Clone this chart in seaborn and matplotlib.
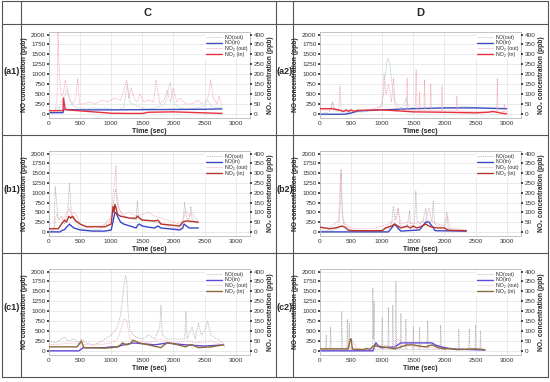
import matplotlib
matplotlib.use("Agg")
import matplotlib.pyplot as plt
import seaborn as sns

# ---- data (NO in ppb on left axis, NO2 in ppb on right axis) ----
# (a1)
a1_no_out_t = [0,100,140,160,200,240,270,290,320,360,400,450,500,600,700,800,900,1000,1100,1200,1240,1260,1300,1400,1500,1600,1700,1800,1880,1920,1950,1980,2050,2100,2200,2300,2400,2500,2550,2600,2700,2780]
a1_no_out = [0,50,200,100,350,300,550,600,400,250,200,150,150,120,150,130,150,120,100,150,600,750,300,200,150,120,150,200,300,650,800,400,200,150,120,130,150,200,350,200,150,150]
a1_no_in_t = [0,225,235,500,1000,1500,2000,2500,2780]
a1_no_in = [30,30,110,100,100,105,110,115,125]
a1_no2_out_t = [0,100,130,145,160,180,200,230,260,300,330,380,430,460,490,550,650,750,850,950,1050,1150,1200,1250,1280,1320,1380,1420,1460,1520,1600,1680,1720,1780,1850,1900,1950,2000,2050,2100,2200,2300,2400,2450,2500,2560,2600,2640,2700,2730,2780]
a1_no2_out = [10,20,80,420,260,140,90,100,170,120,80,50,80,180,50,50,60,50,70,60,80,70,120,170,80,130,70,60,100,60,70,60,170,50,70,120,60,130,60,80,50,50,70,50,60,90,170,80,50,90,40]
a1_no2_in_t = [0,225,232,260,300,500,800,1000,1300,1500,1600,2000,2300,2500,2780]
a1_no2_in = [16,16,80,22,20,15,8,3,2,2,8,10,7,5,2]

# (a2)
a2_no_out_t = [0,150,200,250,300,500,700,900,980,1020,1050,1080,1100,1130,1160,1200,1300,1350,1380,1420,1500,1700,2000,2200,2300,2500,2800,3000]
a2_no_out = [0,50,300,100,50,30,50,80,200,500,1000,1350,1400,1200,700,300,150,200,400,200,150,130,130,150,200,150,130,120]
a2_no_in_t = [0,400,500,600,800,1000,1500,2000,2500,3000]
a2_no_in = [-10,-10,20,70,90,100,130,150,150,130]
a2_no2_out_t = [0,180,200,220,300,320,340,500,800,1000,1030,1060,1100,1150,1180,1210,1300,1390,1400,1410,1500,1530,1545,1560,1590,1600,1610,1670,1680,1690,1770,1780,1790,1950,1960,1970,2190,2200,2210,2500,2840,2850,2860,2950,2960,2970,3000]
a2_no2_out = [20,20,60,15,15,140,15,15,20,40,200,100,150,60,180,40,20,15,180,15,15,15,220,15,15,110,15,15,170,15,15,150,15,15,140,15,15,90,15,10,10,180,10,10,50,10,10]
a2_no2_in_t = [0,200,300,380,420,460,500,550,600,700,1000,1200,1500,2000,2500,2700,2780,2900,3000]
a2_no2_in = [26,26,20,12,20,12,20,12,18,18,20,16,10,8,5,8,12,4,0]

# (b1)
b1_no_out_t = [0,80,100,150,200,250,300,330,360,400,500,600,800,900,950,1000,1040,1070,1100,1150,1200,1300,1400,1420,1440,1500,1600,1700,1750,1800,1900,2000,2100,2150,2180,2200,2250,2280,2300,2400]
b1_no_out = [0,50,1150,300,400,200,500,1250,400,300,100,50,50,200,300,350,800,1100,700,500,400,350,300,800,350,300,300,250,250,200,150,100,100,200,750,400,300,650,300,200]
b1_no_in_t = [0,180,200,250,300,330,360,400,500,700,900,1000,1040,1060,1080,1100,1150,1200,1300,1400,1430,1450,1500,1600,1700,1750,1800,2100,2150,2170,2250,2400]
b1_no_in = [0,0,30,60,150,200,150,100,50,20,20,50,350,500,480,400,250,200,150,100,180,200,150,120,100,150,100,50,100,200,100,100]
b1_no2_out_t = [0,80,120,160,200,240,280,320,360,400,450,500,600,800,950,1000,1030,1060,1075,1090,1120,1160,1200,1300,1400,1500,1600,1700,1800,1900,2000,2100,2150,2200,2250,2300,2350,2400]
b1_no2_out = [16,20,90,60,80,70,100,120,90,100,80,40,30,30,40,80,200,260,340,200,120,100,90,100,80,90,100,80,70,60,50,40,60,110,80,100,70,60]
b1_no2_in_t = [0,150,200,250,280,320,350,380,420,500,600,900,1000,1030,1045,1060,1080,1100,1150,1300,1400,1420,1500,1700,1750,1800,2100,2150,2200,2400]
b1_no2_in = [16,16,40,60,50,80,70,80,60,40,26,26,40,130,100,140,120,90,80,70,70,80,60,56,60,40,30,50,56,50]

# (b2)
b2_no_out_t = [0,100,200,300,320,340,360,380,500,800,1000,1100,1150,1180,1200,1220,1260,1280,1300,1400,1440,1460,1500,1520,1540,1560,1600,1650,1700,1720,1750,1800,1820,1840,1900,2000,2040,2060,2100,2200,2350]
b2_no_out = [50,30,30,100,600,1600,500,200,50,30,50,100,200,650,400,300,600,200,150,100,550,100,100,300,1050,300,200,250,600,300,300,250,800,200,150,100,500,100,50,30,30]
b2_no_in_t = [0,1100,1150,1200,1250,1300,1600,1650,1700,1750,1800,1850,2350]
b2_no_in = [0,0,100,200,100,20,50,150,250,250,150,30,20]
b2_no2_out_t = [0,100,200,300,330,360,400,500,700,900,1000,1100,1200,1250,1300,1400,1500,1600,1700,1750,1800,1900,2000,2050,2100,2200,2350]
b2_no2_out = [25,20,30,60,300,80,40,20,15,20,30,40,60,120,40,50,40,50,60,120,50,40,30,80,20,15,10]
b2_no2_in_t = [0,150,250,350,400,450,500,1000,1050,1150,1200,1250,1300,1400,1450,1500,1550,1600,1700,1750,1800,1900,2000,2050,2100,2350]
b2_no2_in = [24,16,20,30,24,10,6,6,20,30,40,30,20,30,20,30,20,24,40,30,24,20,20,10,8,6]

# (c1)
c1_no_out_t = [0,100,200,250,300,400,480,520,600,700,800,900,1000,1100,1150,1180,1200,1230,1250,1270,1300,1350,1400,1500,1600,1700,1780,1800,1820,1900,2000,2100,2180,2200,2220,2300,2350,2400,2450,2500,2550,2600,2700,2800,2830]
c1_no_out = [250,200,300,350,250,300,200,300,200,150,200,300,400,600,900,1300,1600,1900,1800,1000,500,400,350,300,400,300,600,1150,400,300,300,300,300,1000,300,600,300,700,400,500,750,400,300,200,100]
c1_no_in_t = [0,480,550,900,1000,1100,1150,1200,1300,1350,1500,1700,1900,2000,2200,2500,2800]
c1_no_in = [0,0,80,80,100,100,130,150,180,200,180,150,200,180,150,120,150]
c1_no2_out_t = [0,200,400,600,800,1000,1100,1150,1200,1250,1300,1400,1500,1600,1800,2000,2200,2400,2600,2800,2830]
c1_no2_out = [30,35,40,30,30,40,60,100,160,150,60,40,50,40,60,40,50,40,50,30,20]
c1_no2_in_t = [0,450,500,520,560,900,1000,1100,1150,1180,1250,1320,1350,1450,1600,1800,1850,1900,2000,2200,2250,2300,2400,2600,2800]
c1_no2_in = [20,20,40,50,16,14,16,20,30,40,30,40,54,40,30,16,30,40,36,20,30,30,16,20,30]

# (c2)
c2_no_out_t = [0,90,100,110,160,170,180,340,350,360,430,440,450,460,470,480,700,840,850,860,870,880,990,1000,1010,1090,1100,1110,1160,1170,1180,1210,1220,1230,1290,1300,1310,1370,1380,1390,1490,1500,1510,1590,1600,1610,1720,1730,1740,1930,1940,1950,2220,2230,2240,2390,2400,2410,2490,2500,2510,2570,2580,2590,2650]
c2_no_out = [30,30,400,30,30,600,30,30,1000,30,30,800,30,30,700,30,30,30,1600,300,1250,30,30,850,30,30,1100,30,30,1150,30,30,1750,30,30,950,30,30,800,30,30,600,30,30,600,30,30,750,30,30,650,30,30,550,30,30,550,30,30,650,30,30,500,30,30]
c2_no_in_t = [0,850,880,900,950,1000,1200,1250,1300,1800,1850,1950,2100,2650]
c2_no_in = [0,0,150,200,100,80,100,150,200,200,150,100,50,20]
c2_no2_out_t = [0,200,400,500,510,600,800,900,1000,1200,1250,1400,1600,1800,2000,2200,2400,2600,2650]
c2_no2_out = [10,8,10,15,60,10,8,20,30,20,60,25,20,15,10,8,10,8,6]
c2_no2_in_t = [0,450,490,500,520,550,700,750,800,880,900,1000,1100,1200,1300,1400,1500,1600,1700,1800,1900,2000,2100,2200,2500,2650]
c2_no2_in = [10,10,60,60,10,8,6,12,8,30,24,20,16,10,20,30,30,24,20,30,16,10,12,6,10,6]

row_labels = ["(a1)", "(a2)", "(b1)", "(b2)", "(c1)", "(c2)"]
col_titles = ["C", "D"]
legend_labels = ["NO(out)", "NO(in)", "NO\u2082 (out)", "NO\u2082 (in)"]

# colours per row: NO(out), NO(in), NO2(out), NO2(in)
row_colors = {
    "a": ["#a8c6d8", "#3d4fbf", "#f3a3b3", "#e8303c"],
    "b": ["#b9aeb0", "#3a48c8", "#f5a8b8", "#b8332c"],
    "c": ["#b7b0b8", "#6048d8", "#f3b0bd", "#8c6a3a"],
}

sns.set_theme(style="whitegrid", rc={
    "grid.color": "#e2e2e2", "grid.linewidth": 0.5,
    "axes.edgecolor": "#b8b8b8", "axes.linewidth": 0.6,
})
plt.rcParams["font.family"] = ["Liberation Sans", "DejaVu Sans"]

W, H = 550, 382
fig = plt.figure(figsize=(5.5, 3.82), dpi=100)


def box(l, t, r, b):
    return [l / W, 1 - b / H, (r - l) / W, (b - t) / H]


# table grid drawn on a background axes
bg = fig.add_axes([0, 0, 1, 1])
bg.set_xlim(0, W)
bg.set_ylim(H, 0)
bg.axis("off")
for y in [1, 24, 135, 253, 377]:
    bg.plot([2, 548], [y, y], color="#555555", lw=0.8)
for x in [2, 21, 276, 293, 548]:
    bg.plot([x, x], [1, 377], color="#555555", lw=0.8)
bg.text(148, 13, col_titles[0], ha="center", va="center", fontsize=8, fontweight="bold")
bg.text(420, 13, col_titles[1], ha="center", va="center", fontsize=8, fontweight="bold")

rows_y = {"a": (32, 118), "b": (151, 236), "c": (269, 355)}
cols_x = [(49, 250), (320, 521)]
label_x = [11.5, 284.5]

panels = [
    ("a", 0, (a1_no_out_t, a1_no_out), (a1_no_in_t, a1_no_in), (a1_no2_out_t, a1_no2_out), (a1_no2_in_t, a1_no2_in)),
    ("a", 1, (a2_no_out_t, a2_no_out), (a2_no_in_t, a2_no_in), (a2_no2_out_t, a2_no2_out), (a2_no2_in_t, a2_no2_in)),
    ("b", 0, (b1_no_out_t, b1_no_out), (b1_no_in_t, b1_no_in), (b1_no2_out_t, b1_no2_out), (b1_no2_in_t, b1_no2_in)),
    ("b", 1, (b2_no_out_t, b2_no_out), (b2_no_in_t, b2_no_in), (b2_no2_out_t, b2_no2_out), (b2_no2_in_t, b2_no2_in)),
    ("c", 0, (c1_no_out_t, c1_no_out), (c1_no_in_t, c1_no_in), (c1_no2_out_t, c1_no2_out), (c1_no2_in_t, c1_no2_in)),
    ("c", 1, (c2_no_out_t, c2_no_out), (c2_no_in_t, c2_no_in), (c2_no2_out_t, c2_no2_out), (c2_no2_in_t, c2_no2_in)),
]

for i, (row, col, no_out, no_in, no2_out, no2_in) in enumerate(panels):
    top, bottom = rows_y[row]
    left, right = cols_x[col]
    c = row_colors[row]
    ax = fig.add_axes(box(left, top, right, bottom))
    ax2 = ax.twinx()

    sns.lineplot(x=no_out[0], y=no_out[1], ax=ax, color=c[0], lw=0.6,
                 dashes=False, estimator=None, sort=False, label=legend_labels[0])
    ax.lines[-1].set_dashes((1.2, 1.0))
    sns.lineplot(x=no2_out[0], y=no2_out[1], ax=ax2, color=c[2], lw=0.6,
                 estimator=None, sort=False, label=legend_labels[2])
    ax2.lines[-1].set_dashes((1.2, 1.0))
    sns.lineplot(x=no_in[0], y=no_in[1], ax=ax, color=c[1], lw=1.0,
                 estimator=None, sort=False, label=legend_labels[1])
    sns.lineplot(x=no2_in[0], y=no2_in[1], ax=ax2, color=c[3], lw=1.0,
                 estimator=None, sort=False, label=legend_labels[3])

    for a in (ax, ax2):
        if a.get_legend() is not None:
            a.get_legend().remove()

    ax.set_xlim(0, 3230)
    ax.set_ylim(-105, 2065)
    ax2.set_ylim(-21, 413)
    ax.set_xticks(range(0, 3001, 500))
    ax.set_yticks(range(0, 2001, 250))
    ax2.set_yticks(range(0, 401, 50))
    ax2.grid(False)
    for sp in ax2.spines.values():
        sp.set_visible(False)

    ax.tick_params(labelsize=4.6, pad=1, length=1.5, colors="#333333")
    ax2.tick_params(labelsize=4.6, pad=1, length=1.5, colors="#333333")
    ax.set_xlabel("Time (sec)", fontsize=5, fontweight="bold", labelpad=1)
    ax.set_ylabel("NO concentration (ppb)", fontsize=4.8, fontweight="bold", labelpad=2)
    ax2.set_ylabel("NO\u2082 concentration (ppb)", fontsize=4.8, fontweight="bold", labelpad=2)

    h1, l1 = ax.get_legend_handles_labels()
    h2, l2 = ax2.get_legend_handles_labels()
    handles = [h1[0], h1[1], h2[0], h2[1]]
    labels = [l1[0], l1[1], l2[0], l2[1]]
    ax2.legend(handles, labels, loc="upper right", fontsize=3.8, frameon=True,
               framealpha=1, edgecolor="white", handlelength=3, handletextpad=0.6,
               labelspacing=0.15, borderpad=0.2, borderaxespad=0.3)

    bg.text(label_x[col], (top + bottom) / 2 - 4, row_labels[i], ha="center",
            va="center", fontsize=6.5, fontweight="bold")

fig.savefig("out.png", dpi=100)
